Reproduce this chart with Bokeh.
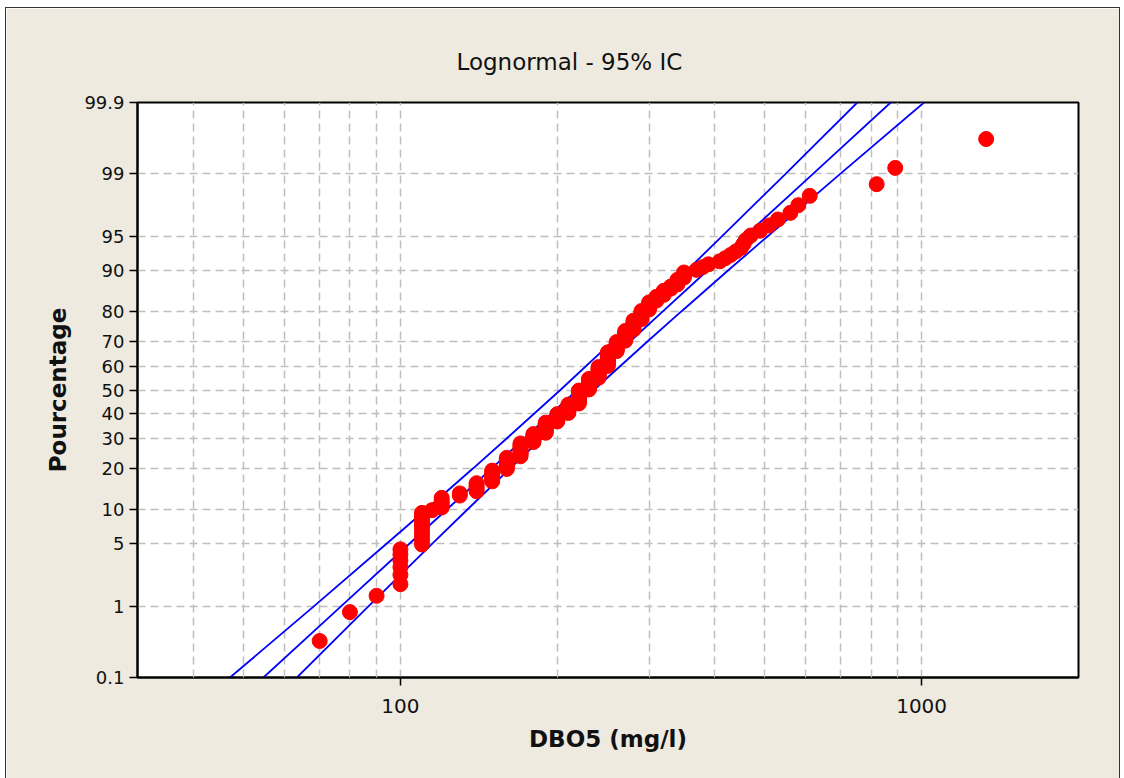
from statistics import NormalDist
from bokeh.plotting import figure
from bokeh.models import FixedTicker, Range1d, PrintfTickFormatter
from bokeh.embed import file_html
from bokeh.resources import INLINE

# ---- data ----
dbo5_values = [70, 80, 90, 100, 110, 115, 120, 130, 140, 150, 160, 170, 180, 190,
               200, 210, 220, 230, 240, 250, 260, 270, 280, 290, 300, 310, 320,
               330, 340, 350, 370, 380, 390, 410, 420, 430, 440, 450, 455, 460,
               470, 490, 510, 530, 560, 580, 610, 820, 890, 1330]
dbo5_counts = [1, 1, 1, 6, 10, 1, 5, 2, 5, 7, 8, 10, 7, 9,
               7, 8, 12, 10, 10, 12, 8, 8, 7, 6, 5, 3, 3,
               2, 3, 3, 1, 1, 1, 1, 1, 1, 1, 1, 1, 1,
               1, 1, 1, 1, 1, 1, 1, 1, 1, 1]

line_pct = [0.1, 1, 5, 10, 20, 30, 50, 70, 80, 90, 95, 99, 99.9]
fit_dbo5 = [54.6, 76.9, 104.4, 122.9, 149.7, 172.6, 218.3, 276.1, 318.4, 387.7, 456.3, 619.6, 872.2]
ci_left_dbo5 = [47.1, 68.2, 94.4, 112.2, 137.9, 159.7, 202.7, 255.6, 293.4, 354.0, 412.8, 548.9, 752.7]
ci_right_dbo5 = [63.3, 86.8, 115.4, 134.6, 162.4, 186.3, 235.0, 298.2, 345.5, 424.6, 504.7, 698.9, 1010.7]

y_tick_pct = [0.1, 1, 5, 10, 20, 30, 40, 50, 60, 70, 80, 90, 95, 99, 99.9]
y_tick_labels = ["0.1", "1", "5", "10", "20", "30", "40", "50", "60", "70", "80", "90", "95", "99", "99.9"]
x_major_ticks = [100, 1000]
x_minor_ticks = [40, 50, 60, 70, 80, 90, 200, 300, 400, 500, 600, 700, 800, 900]

# ---- probability-plot transform ----
nd = NormalDist()
def zq(pct):
    return nd.inv_cdf(pct / 100.0)

obs = []
for v, c in zip(dbo5_values, dbo5_counts):
    obs.extend([v] * c)
n = len(obs)
obs_pct = [(i - 0.3) / (n + 0.4) * 100 for i in range(1, n + 1)]
obs_z = [zq(q) for q in obs_pct]
line_z = [zq(q) for q in line_pct]

BG = "#EEEAE0"
FONT = "DejaVu Sans"

p = figure(width=1115, height=771, x_axis_type="log",
           x_range=Range1d(31.3, 2000), y_range=Range1d(zq(0.1), zq(99.9)),
           output_backend="svg", toolbar_location=None,
           title="Lognormal - 95% IC")
p.margin = (7, 0, 0, 5)
p.styles = {"border-top": "1px solid #333", "border-left": "1px solid #333", "border-right": "1px solid #333"}
p.min_border_left = 131
p.min_border_right = 43
p.min_border_top = 94
p.min_border_bottom = 102
p.background_fill_color = "white"
p.border_fill_color = BG
p.outline_line_color = "black"
p.outline_line_width = 2

p.title.align = "left"
p.title.offset = 319
p.title.standoff = 55
p.title.text_font = FONT
p.title.text_font_style = "normal"
p.title.text_font_size = "23px"
p.title.text_color = "#111111"

# grids
for g in (p.xgrid, p.ygrid):
    g.grid_line_color = "#BEBEBE"
    g.grid_line_dash = "8 5"
    g.grid_line_width = 1.5
p.xgrid.minor_grid_line_color = "#BEBEBE"
p.xgrid.minor_grid_line_dash = "8 5"
p.xgrid.minor_grid_line_width = 1.5

# x axis
p.xaxis.ticker = FixedTicker(ticks=x_major_ticks, minor_ticks=x_minor_ticks)
p.xaxis.formatter = PrintfTickFormatter(format="%d")
p.xaxis.major_tick_out = 8
p.xaxis.major_tick_in = 0
p.xaxis.minor_tick_in = 7
p.xaxis.minor_tick_out = 0
p.xaxis.minor_tick_line_color = "#C8C8C8"
p.xaxis.major_label_text_font_size = "20px"
p.xaxis.major_label_standoff = 13
p.xaxis.axis_label = "DBO5 (mg/l)"
p.xaxis.axis_label_standoff = 10

# y axis
ticks_z = [zq(q) for q in y_tick_pct]
p.yaxis.ticker = FixedTicker(ticks=ticks_z, minor_ticks=[])
p.yaxis.major_label_overrides = {t: lab for t, lab in zip(ticks_z, y_tick_labels)}
p.yaxis.major_tick_out = 8
p.yaxis.major_tick_in = 0
p.yaxis.major_label_text_font_size = "18px"
p.yaxis.major_label_standoff = 5
p.yaxis.axis_label = "Pourcentage"
p.yaxis.axis_label_standoff = 10

for ax in (p.xaxis, p.yaxis):
    ax.axis_line_color = "black"
    ax.axis_line_width = 2
    ax.major_tick_line_color = "black"
    ax.major_tick_line_width = 1.5
    ax.major_label_text_font = FONT
    ax.major_label_text_color = "#111111"
    ax.axis_label_text_font = FONT
    ax.axis_label_text_font_style = "bold"
    ax.axis_label_text_font_size = "23px"
    ax.axis_label_text_color = "#111111"

# fit and confidence lines
p.line(fit_dbo5, line_z, line_color="#0000FF", line_width=1.8)
p.line(ci_left_dbo5, line_z, line_color="#0000FF", line_width=1.8)
p.line(ci_right_dbo5, line_z, line_color="#0000FF", line_width=1.8)

# observations
p.scatter(obs, obs_z, size=15, fill_color="#FF0000", line_color="#FF0000")

open("out.html", "w").write(file_html(p, INLINE))
